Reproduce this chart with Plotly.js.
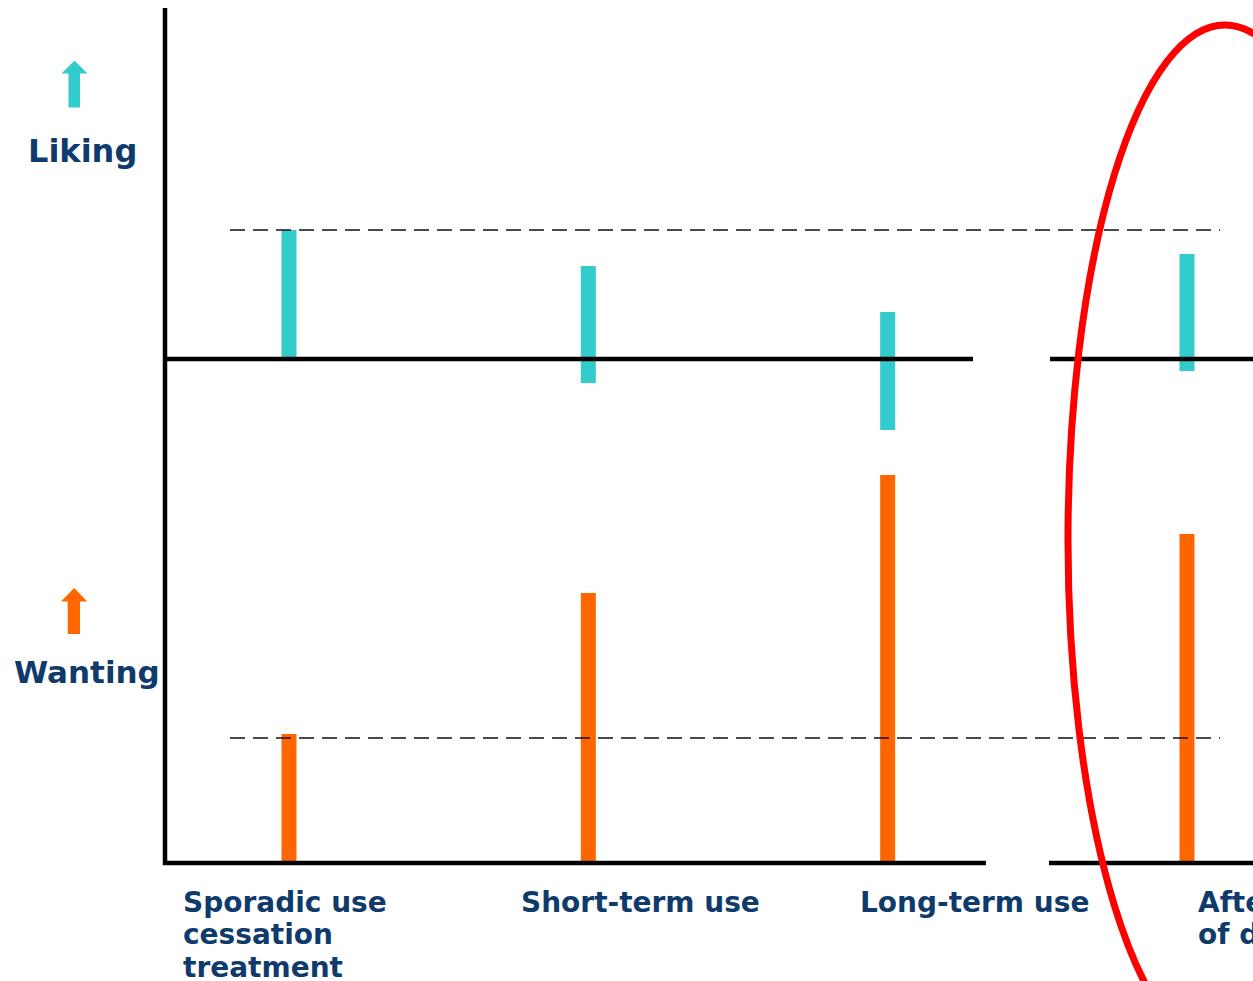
<!DOCTYPE html>
<html>
<head>
<meta charset="utf-8">
<script src="https://cdn.plot.ly/plotly-3.0.1.min.js"></script>
<style>
  html, body { margin: 0; padding: 0; background: #ffffff; }
  #chart { width: 1253px; height: 981px; }
</style>
</head>
<body>
<div id="chart"></div>
<script>
// ---- data ----
const categories = ["Sporadic use", "Short-term use", "Long-term use", "After cessation"];
// Liking bars: bottom and top relative to the liking baseline
const likingLow  = [0, -24, -71, -12];
const likingHigh = [129, 93, 47, 105];
// Wanting bars: height above the wanting baseline
const wantingHigh = [129, 270, 388, 329];
// Reference (dashed) levels = sporadic-use level
const likingRef = 129;
const wantingRef = 125;
// Label lines under each category
const labelLines = [
  ["Sporadic use", "cessation", "treatment"],
  ["Short-term use"],
  ["Long-term use"],
  ["After cessation", "of drug use"]
];

// ---- layout helpers ----
const W = 1253, H = 981;
const X0 = 289, DX = 299.33;           // pixel centre of first category & spacing
const xu = px => (px - X0) / DX;        // pixel -> category units
const WB = 863, LB = 359;               // baselines (pixel rows)
const PX = px => px / W, PY = py => 1 - py / H;

const cyan = "#33cccc", orange = "#ff6600", navy = "#0f3a6c";

const liking = {
  type: "bar", x: categories, yaxis: "y2",
  base: likingLow,
  y: likingHigh.map((h, i) => h - likingLow[i]),
  width: 15 / DX, marker: { color: cyan, line: { width: 0 } },
  hoverinfo: "skip", showlegend: false
};
const wanting = {
  type: "bar", x: categories, yaxis: "y",
  base: 0, y: wantingHigh,
  width: 15 / DX, marker: { color: orange, line: { width: 0 } },
  hoverinfo: "skip", showlegend: false
};

const black = { color: "#000000", width: 4.5 };
const dashed = { color: "#111111", width: 1.3, dash: "15px,8px" };
const shapes = [
  // vertical axis
  { type: "line", xref: "x", yref: "y", x0: xu(165), x1: xu(165), y0: WB - 8, y1: -2, line: black },
  // liking baseline (two segments)
  { type: "line", xref: "x", yref: "y2", x0: xu(163), x1: xu(973), y0: 0, y1: 0, line: black },
  { type: "line", xref: "x", yref: "y2", x0: xu(1050), x1: xu(1260), y0: 0, y1: 0, line: black },
  // wanting baseline (two segments)
  { type: "line", xref: "x", yref: "y", x0: xu(163), x1: xu(986), y0: 0, y1: 0, line: black },
  { type: "line", xref: "x", yref: "y", x0: xu(1049), x1: xu(1260), y0: 0, y1: 0, line: black },
  // dashed reference lines
  { type: "line", xref: "x", yref: "y2", x0: xu(230), x1: xu(1220), y0: likingRef, y1: likingRef, line: dashed },
  { type: "line", xref: "x", yref: "y", x0: xu(230), x1: xu(1220), y0: wantingRef, y1: wantingRef, line: dashed },
  // arrows
  { type: "path", xref: "paper", yref: "paper", fillcolor: cyan, line: { width: 0 },
    path: `M ${PX(61.5)},${PY(73.5)} L ${PX(74.5)},${PY(60.5)} L ${PX(87.5)},${PY(73.5)} L ${PX(80)},${PY(73.5)} L ${PX(80)},${PY(107.5)} L ${PX(68.5)},${PY(107.5)} L ${PX(68.5)},${PY(73.5)} Z` },
  { type: "path", xref: "paper", yref: "paper", fillcolor: orange, line: { width: 0 },
    path: `M ${PX(61)},${PY(601.5)} L ${PX(74.2)},${PY(588)} L ${PX(87.3)},${PY(601.5)} L ${PX(80)},${PY(601.5)} L ${PX(80)},${PY(634)} L ${PX(67.7)},${PY(634)} L ${PX(67.7)},${PY(601.5)} Z` },
  // red ellipse
  { type: "circle", xref: "paper", yref: "paper",
    x0: PX(1068), x1: PX(1382), y0: PY(25), y1: PY(1055),
    line: { color: "#ff0000", width: 7 } }
];

const labelX = [183, 521, 860, 1198];
const annotations = [];
labelLines.forEach((lines, i) => {
  lines.forEach((t, j) => {
    annotations.push({
      xref: "paper", yref: "paper", x: PX(labelX[i] - 2), y: PY(902 + 32.5 * j),
      xanchor: "left", yanchor: "middle", showarrow: false,
      text: "<b>" + t + "</b>",
      font: { family: "DejaVu Sans", size: 28, color: navy }
    });
  });
});
annotations.push({
  xref: "paper", yref: "paper", x: PX(82), y: PY(151), xanchor: "center", yanchor: "middle",
  showarrow: false, text: "<b>Liking</b>", font: { family: "DejaVu Sans", size: 32, color: navy }
});
annotations.push({
  xref: "paper", yref: "paper", x: PX(87), y: PY(672), xanchor: "center", yanchor: "middle",
  showarrow: false, text: "<b>Wanting</b>", font: { family: "DejaVu Sans", size: 31, color: navy }
});

const hidden = { visible: false, showgrid: false, zeroline: false, fixedrange: true };
const layout = {
  width: W, height: H,
  margin: { l: 0, r: 0, t: 0, b: 0, pad: 0 },
  paper_bgcolor: "#ffffff", plot_bgcolor: "#ffffff",
  barmode: "overlay",
  xaxis: Object.assign({}, hidden, { type: "category", categoryorder: "array", categoryarray: categories,
    range: [xu(0), xu(W)] }),
  yaxis: Object.assign({}, hidden, { range: [WB - H, WB] }),
  yaxis2: Object.assign({}, hidden, { overlaying: "y", range: [LB - H, LB] }),
  shapes: shapes,
  annotations: annotations,
  showlegend: false
};

Plotly.newPlot("chart", [liking, wanting], layout, { staticPlot: true, displayModeBar: false });
</script>
</body>
</html>
